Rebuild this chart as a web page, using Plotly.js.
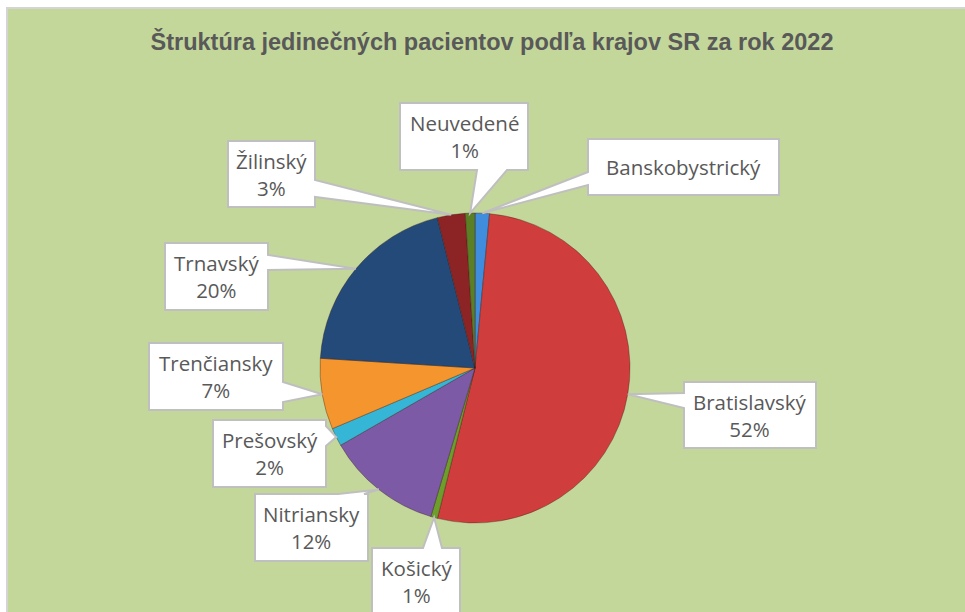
<!DOCTYPE html>
<html><head><meta charset="utf-8">
<script src="https://cdn.plot.ly/plotly-3.0.1.min.js"></script>
<style>html,body{margin:0;padding:0;background:#fff;overflow:hidden}#chart{width:965px;height:612px}</style>
</head><body><div id="chart"></div>
<script>
// ---- data ----
const regions = ["Banskobystrický","Bratislavský","Košický","Nitriansky","Prešovský","Trenčiansky","Trnavský","Žilinský","Neuvedené"];
const values  = [1.5, 52.4, 0.7, 12.1, 1.9, 7.4, 20.1, 2.9, 1.0];
const showPct = [false, true, true, true, true, true, true, true, true];
const colors  = ["#3f8ddc","#d03d3d","#6d9e2c","#7c5aa6","#36b6d6","#f4952d","#234a78","#8c2325","#5a7f24"];
const titleText = "Štruktúra jedinečných pacientov podľa krajov SR za rok 2022";

// ---- layout of callout boxes (page pixels) ----
const W = 965, H = 612;
const pie = {cx: 475, cy: 368, r: 155};
const callouts = [
  {box:[588,139,779,195], side:"left",   base:[172,185]},
  {box:[684,382,816,448], side:"left",   base:[393,408]},
  {box:[372,548,460,615], side:"top",    base:[423,442]},
  {box:[255,494,368,561], side:"top",    base:[338,364]},
  {box:[213,420,326,487], side:"right",  base:[426,446]},
  {box:[149,343,283,410], side:"right",  base:[382,402]},
  {box:[165,243,268,310], side:"right",  base:[255,270]},
  {box:[228,141,315,207], side:"right",  base:[180,197]},
  {box:[400,103,528,170], side:"bottom", base:[477,507]}
];

const px = x => x / W;
const py = y => 1 - y / H;

const total = values.reduce((a,b)=>a+b,0);
let cum = 0;
const shapes = [
  {type:"rect", xref:"paper", yref:"paper", x0:0, x1:1, y0:py(7), y1:1, fillcolor:"#ffffff", line:{width:0}, layer:"below"},
  {type:"rect", xref:"paper", yref:"paper", x0:0, x1:px(6), y0:0, y1:1, fillcolor:"#ffffff", line:{width:0}, layer:"below"},
  {type:"line", xref:"paper", yref:"paper", x0:px(7), x1:px(7), y0:0, y1:py(8), line:{color:"#d4d4d4", width:2}, layer:"below"},
  {type:"line", xref:"paper", yref:"paper", x0:px(6), x1:1, y0:py(8), y1:py(8), line:{color:"#d4d4d4", width:2}, layer:"below"}
];
const annotations = [];

values.forEach((v,i)=>{
  const mid = (cum + v/2) / total;
  cum += v;
  const ang = mid * 2 * Math.PI;
  const tx = pie.cx + pie.r * Math.sin(ang);
  const ty = pie.cy - pie.r * Math.cos(ang);
  const c = callouts[i];
  const [x0,y0,x1,y1] = c.box;
  const [b0,b1] = c.base;
  let pts;
  if (c.side === "bottom") pts = [[x0,y0],[x1,y0],[x1,y1],[b1,y1],[tx,ty],[b0,y1],[x0,y1]];
  else if (c.side === "top") pts = [[x0,y0],[b0,y0],[tx,ty],[b1,y0],[x1,y0],[x1,y1],[x0,y1]];
  else if (c.side === "left") pts = [[x0,y0],[x1,y0],[x1,y1],[x0,y1],[x0,b1],[tx,ty],[x0,b0]];
  else pts = [[x0,y0],[x1,y0],[x1,b0],[tx,ty],[x1,b1],[x1,y1],[x0,y1]];
  const path = pts.map((p,k)=>(k?"L":"M")+px(p[0]).toFixed(5)+","+py(p[1]).toFixed(5)).join(" ")+" Z";
  shapes.push({type:"path", xref:"paper", yref:"paper", path:path, fillcolor:"#ffffff", line:{color:"#bfbfbf", width:2}, layer:"above"});
  const pct = Math.round(v / total * 100);
  annotations.push({
    xref:"paper", yref:"paper", x:px((x0+x1)/2), y:py((y0+Math.min(y1,612))/2 + (y1>612?1.5:0)),
    xanchor:"center", yanchor:"middle", showarrow:false,
    text: regions[i] + (showPct[i] ? "<br>" + pct + "%" : ""),
    font:{family:"Open Sans, sans-serif", size:20.5, color:"#595959"}
  });
});

const data = [{
  type:"pie", labels:regions, values:values, sort:false, direction:"clockwise", rotation:0,
  marker:{colors:colors, line:{color:"rgba(50,20,20,0.35)", width:1}},
  textinfo:"none", hoverinfo:"label+percent", showlegend:false,
  domain:{x:[320/W, 630/W], y:[1-523/H, 1-213/H]}
}];

const layout = {
  width:W, height:H, margin:{l:0,r:0,t:0,b:0},
  paper_bgcolor:"#c4d79b", plot_bgcolor:"#c4d79b",
  title:{text:"<b>"+titleText+"</b>", x:492/W, xanchor:"center", y:1-42/H, yanchor:"middle", yref:"container",
         font:{family:"Liberation Sans, Arial, sans-serif", size:23.5, color:"#595959"}},
  shapes:shapes, annotations:annotations, showlegend:false
};
Plotly.newPlot("chart", data, layout, {displayModeBar:false, staticPlot:true});
</script></body></html>
